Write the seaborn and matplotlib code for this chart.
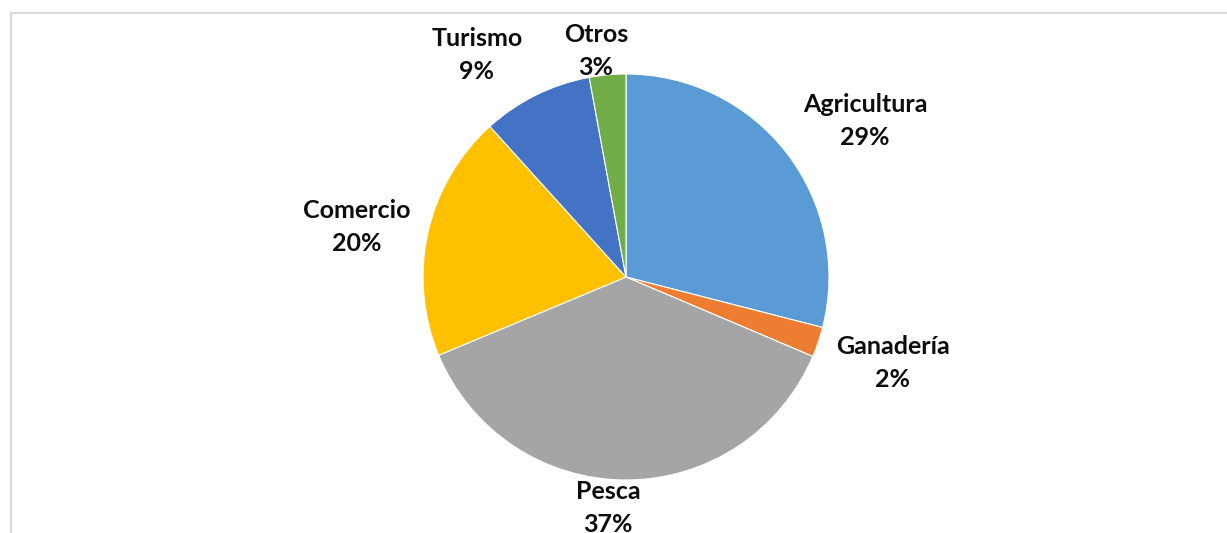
import matplotlib
matplotlib.use("Agg")
import matplotlib.pyplot as plt
import matplotlib.patches as mpatches
import seaborn as sns
import numpy as np

# datos del gráfico
sectores = ["Agricultura", "Ganadería", "Pesca", "Comercio", "Turismo", "Otros"]
porcentajes = [29.0, 2.4, 37.3, 19.6, 8.8, 2.9]
colores = ["#5B9BD5", "#ED7D31", "#A5A5A5", "#FFC000", "#4472C4", "#70AD47"]

# colocación de cada etiqueta: distancia (en radios) y giro respecto al centro de la cuña
dist_etiquetas = [1.405, 1.38, 1.14, 1.35, 1.317, 1.123]
giro_etiquetas = [-4.7, 0.8, -4.3, 2.1, 7.6, 2.4]

sns.set_style("white")
plt.rcParams["font.family"] = ["Lato", "DejaVu Sans"]

W, H = 1227, 533
fig = plt.figure(figsize=(W / 100, H / 100), dpi=100)

# marco gris del área del gráfico
fig.patches.append(mpatches.Rectangle(
    (10.5 / W, -0.1), 1.2, 1.1 - 12.5 / H, transform=fig.transFigure,
    fill=False, edgecolor="#D9D9D9", linewidth=1.5))

cx, cy, r = 626, 277, 203
ax = fig.add_axes([(cx - r) / W, (H - cy - r) / H, 2 * r / W, 2 * r / H])

etiquetas = [f"{s}\n{p:.0f}%" for s, p in zip(sectores, porcentajes)]
wedges, textos = ax.pie(
    porcentajes, colors=colores, startangle=90, counterclock=False,
    labels=etiquetas, labeldistance=1.2,
    wedgeprops=dict(edgecolor="white", linewidth=0.8),
    textprops=dict(fontsize=18, fontweight="bold", color="#0D0D0D"))

for w, t, d, g in zip(wedges, textos, dist_etiquetas, giro_etiquetas):
    ang = np.deg2rad((w.theta1 + w.theta2) / 2 + g)
    t.set_position((d * np.cos(ang), d * np.sin(ang)))
    t.set_ha("center")
    t.set_va("center")
    t.set_linespacing(1.52)

ax.set_xlim(-1, 1)
ax.set_ylim(-1, 1)
ax.axis("off")

fig.savefig("out.png", dpi=100)
